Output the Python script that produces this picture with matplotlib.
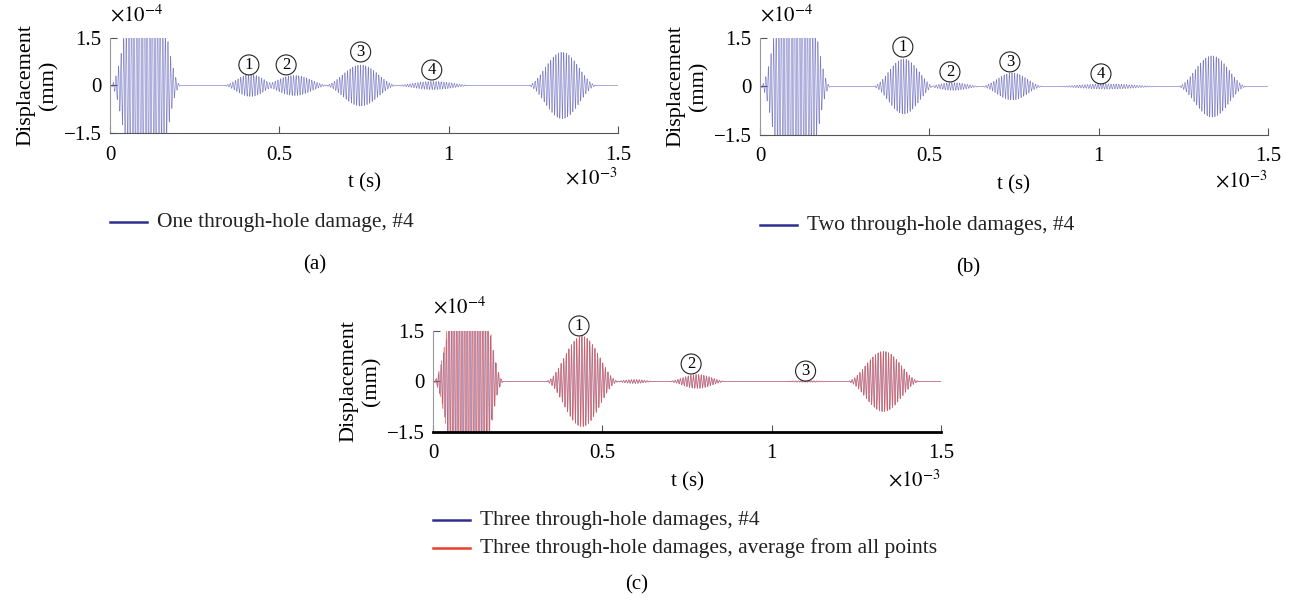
import numpy as np
import matplotlib.pyplot as plt

plt.rcParams['font.family'] = ['Liberation Serif', 'DejaVu Sans']
plt.rcParams['mathtext.fontset'] = 'stix'

# carrier frequency of the tone bursts (kHz) and time axis in ms
f0 = 130.0
t = np.linspace(0, 1.5, 40000)

# wave packets: start (ms), end (ms), amplitude (x1e-4 mm)
a_start = [0.00, 0.33, 0.44, 0.63, 0.83, 1.23]
a_end = [0.21, 0.50, 0.65, 0.85, 1.08, 1.44]
a_amp = [4.6, 0.35, 0.32, 0.65, 0.13, 1.05]

b_start = [0.00, 0.33, 0.48, 0.65, 0.85, 1.23]
b_end = [0.21, 0.52, 0.66, 0.84, 1.20, 1.44]
b_amp = [4.6, 0.85, 0.12, 0.42, 0.08, 0.95]

c_start = [0.00, 0.33, 0.53, 0.69, 1.00, 1.22]
c_end = [0.21, 0.55, 0.66, 0.87, 1.20, 1.44]
c_amp = [4.6, 1.35, 0.05, 0.20, 0.02, 0.90]
c4_amp = [4.2, 1.33, 0.06, 0.21, 0.02, 0.89]
c4_phase = [1.2, 0.05, 0.05, 0.05, 0.0, 0.05]

# circled labels: text, t (ms), y (x1e-4)
a_lab = ['1', '2', '3', '4']
a_lx = [0.41, 0.52, 0.74, 0.95]
a_ly = [0.65, 0.65, 1.06, 0.49]
b_lab = ['1', '2', '3', '4']
b_lx = [0.422, 0.561, 0.738, 1.007]
b_ly = [1.22, 0.45, 0.76, 0.39]
c_lab = ['1', '2', '3']
c_lx = [0.431, 0.762, 1.10]
c_ly = [1.65, 0.52, 0.31]

blue = '#5252b4'
red = '#f05a48'


def burst(starts, ends, amps, phases=None):
    y = np.zeros_like(t)
    if phases is None:
        phases = [0.0] * len(starts)
    for s, e, a, p in zip(starts, ends, amps, phases):
        m = (t >= s) & (t <= e)
        w = np.sin(np.pi * (t[m] - s) / (e - s)) ** 2
        y[m] += a * w * np.sin(2 * np.pi * f0 * (t[m] - s) + p)
    return y


def circled(ax, labels, xs, ys):
    for s, x, y in zip(labels, xs, ys):
        ax.text(x, y, s, fontsize=12, ha='center', va='center', clip_on=False,
                bbox=dict(boxstyle='circle,pad=0.12', fc='white', ec='#222222', lw=0.8))


def style(ax, thick_bottom=False):
    ax.set_xlim(0, 1.5)
    ax.set_ylim(-1.5, 1.5)
    ax.set_xticks([0, 0.5, 1, 1.5])
    ax.set_xticklabels(['0', '0.5', '1', '1.5'])
    ax.set_yticks([-1.5, 0, 1.5])
    ax.set_yticklabels(['\u22121.5', '0', '1.5'])
    ax.spines['top'].set_visible(False)
    ax.spines['right'].set_visible(False)
    ax.spines['left'].set_color('#999999')
    ax.spines['left'].set_linewidth(0.8)
    if thick_bottom:
        ax.spines['bottom'].set_color('black')
        ax.spines['bottom'].set_linewidth(2.0)
    else:
        ax.spines['bottom'].set_color('#555555')
        ax.spines['bottom'].set_linewidth(0.8)
    ax.tick_params(direction='in', length=5, width=0.8, color='#555555',
                   labelsize=15, pad=9)
    ax.tick_params(axis='y', pad=6)
    ax.set_xlabel('t (s)', fontsize=15, labelpad=6)
    ax.set_ylabel('Displacement\n(mm)', fontsize=16, labelpad=4,
                  linespacing=1.25)
    ax.text(0, 1.12, r'$\times10^{-4}$', transform=ax.transAxes,
            fontsize=15, ha='left', va='bottom')
    ax.text(1.0, -0.37, r'$\times10^{-3}$', transform=ax.transAxes,
            fontsize=15, ha='right', va='top')


fig = plt.figure(figsize=(12.9, 6.04), dpi=100)

ax1 = fig.add_axes([0.0853, 0.7798, 0.3938, 0.1573])
ax1.plot(t, burst(a_start, a_end, a_amp), color=blue, lw=0.45, alpha=0.75)
style(ax1)
circled(ax1, a_lab, a_lx, a_ly)

ax2 = fig.add_axes([0.5891, 0.7765, 0.3938, 0.1606])
ax2.plot(t, burst(b_start, b_end, b_amp), color=blue, lw=0.45, alpha=0.75)
style(ax2)
circled(ax2, b_lab, b_lx, b_ly)

ax3 = fig.add_axes([0.3357, 0.2848, 0.3938, 0.1672])
ax3.plot(t, burst(c_start, c_end, c4_amp, c4_phase), color=blue, lw=0.45, alpha=0.8)
ax3.plot(t, burst(c_start, c_end, c_amp), color=red, lw=0.45, alpha=0.75)
style(ax3, thick_bottom=True)
circled(ax3, c_lab, c_lx, c_ly)

# legends drawn under each panel
def legend_entry(x0, y0, color, label):
    fig.add_artist(plt.Line2D([x0 / 1290, (x0 + 37) / 1290],
                              [1 - y0 / 604, 1 - y0 / 604],
                              color=color, lw=1.8))
    fig.text((x0 + 47) / 1290, 1 - y0 / 604, label, fontsize=15.5,
             ha='left', va='center', color='#222222')

legend_entry(110, 222, '#2e2e8f', 'One through-hole damage, #4')
legend_entry(760, 225, '#2e2e8f', 'Two through-hole damages, #4')
legend_entry(433, 520, '#2e2e8f', 'Three through-hole damages, #4')
legend_entry(433, 548, '#e8402a', 'Three through-hole damages, average from all points')

fig.text(315 / 1290, 1 - 265 / 604, '(a)', fontsize=15, ha='center', va='center')
fig.text(968 / 1290, 1 - 268 / 604, '(b)', fontsize=15, ha='center', va='center')
fig.text(637 / 1290, 1 - 585 / 604, '(c)', fontsize=15, ha='center', va='center')

fig.savefig('out.png', dpi=100)
